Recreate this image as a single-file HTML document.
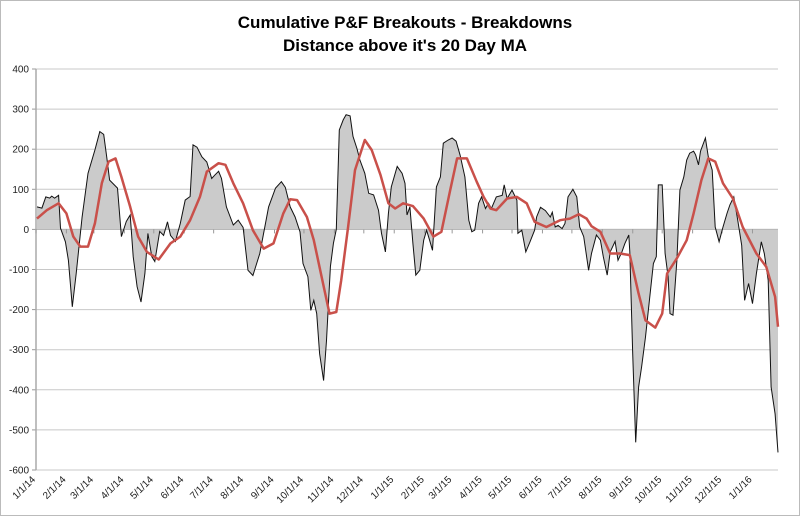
<!DOCTYPE html>
<html><head><meta charset="utf-8"><style>
body{margin:0;background:#fff;}
svg{display:block;font-family:"Liberation Sans",Arial,sans-serif;}
</style></head><body>
<svg id="chart" width="800" height="516">
<rect x="0.5" y="0.5" width="799" height="515" fill="#fff" stroke="#bbb"/>
<text x="405" y="28" text-anchor="middle" font-size="17" font-weight="bold">Cumulative P&amp;F Breakouts - Breakdowns</text>
<text x="405" y="51" text-anchor="middle" font-size="17" font-weight="bold">Distance above it's 20 Day MA</text>
<g id="grid"></g><g id="area"></g><g id="axes"></g><g id="lines"></g>
</svg>
<script>
const yTicks=[400,300,200,100,0,-100,-200,-300,-400,-500,-600];
const monthDays=[0,31,59,90,120,151,181,212,243,273,304,334,365,396,424,455,485,516,546,577,608,638,669,699,730];
const monthLabels=["1/1/14","2/1/14","3/1/14","4/1/14","5/1/14","6/1/14","7/1/14","8/1/14","9/1/14","10/1/14","11/1/14","12/1/14","1/1/15","2/1/15","3/1/15","4/1/15","5/1/15","6/1/15","7/1/15","8/1/15","9/1/15","10/1/15","11/1/15","12/1/15","1/1/16"];
const diffDays=[1,6,10,14,16,19,23,25,30,33,37,41,47,53,60,65,69,72,75,83,87,92,96,99,103,107,111,114,118,121,126,130,134,137,142,147,152,157,160,164,169,174,179,182,186,189,194,201,206,211,216,221,228,237,244,250,254,259,264,269,272,277,280,283,286,289,293,296,300,303,306,309,313,316,320,323,327,330,335,339,344,349,352,356,359,362,368,373,376,378,381,384,387,391,395,398,401,404,408,412,415,420,424,428,432,437,441,444,447,451,454,458,461,464,469,475,477,480,485,490,491,495,499,503,508,510,514,519,524,526,529,532,536,539,542,547,551,554,558,563,566,571,575,578,582,585,590,593,597,600,604,605,608,611,614,617,621,625,629,632,634,638,641,644,646,649,653,656,660,663,666,670,672,675,677,682,685,689,692,696,700,704,707,711,715,719,722,726,730,734,739,742,746,749,753,756];
const diffVals=[56,53,81,78,83,78,85,3,-31,-77,-193,-110,31,140,198,244,237,181,123,103,-18,20,36,-68,-143,-181,-110,-10,-68,-80,-5,-15,19,-15,-30,15,73,82,211,205,181,168,127,135,145,127,56,11,23,5,-102,-115,-60,56,103,119,105,56,31,-6,-85,-118,-202,-177,-210,-310,-377,-277,-93,-35,0,248,273,286,283,232,202,173,140,90,86,48,-10,-56,40,106,157,140,115,36,56,-35,-114,-102,-27,-2,-27,-52,106,131,215,223,228,220,186,131,23,-6,-2,65,81,52,65,52,81,85,111,77,98,73,-10,-2,-56,-33,-2,31,55,47,31,43,6,10,2,15,81,100,81,6,-18,-102,-60,-14,-27,-68,-114,-56,-30,-77,-56,-35,-14,-56,-310,-531,-393,-343,-268,-177,-85,-68,111,111,-60,-118,-210,-214,-77,98,131,173,190,195,186,161,195,228,181,148,6,-31,6,40,61,81,22,-40,-177,-135,-185,-110,-31,-60,-127,-393,-460,-556];
const maDays=[1,11,23,31,38,45,53,60,67,74,81,87,96,104,113,125,137,147,157,167,174,186,193,201,211,221,232,242,252,259,266,276,283,291,299,306,311,318,325,335,342,351,359,366,374,384,395,405,413,422,429,439,449,456,463,469,480,490,500,508,520,534,544,553,561,566,575,585,595,605,614,621,631,638,643,653,663,670,678,685,692,700,710,720,734,744,753,756];
const maVals=[27,48,65,40,-18,-43,-43,15,115,169,177,131,56,-18,-56,-75,-35,-18,23,81,144,165,161,115,65,-2,-48,-35,40,75,73,31,-27,-118,-210,-206,-127,6,148,223,198,136,65,52,65,58,27,-18,-6,98,177,177,119,81,52,48,77,81,65,19,6,23,27,38,27,8,-6,-60,-60,-64,-160,-227,-245,-210,-110,-72,-27,40,123,177,169,115,77,6,-60,-93,-168,-243];

const L=36,R=778,T=69,B=470,DMAX=756;
const xS=d=>L+d*(R-L)/DMAX;
const yS=v=>T+(400-v)*(B-T)/1000;
const NS="http://www.w3.org/2000/svg";
function mk(tag,attrs,parent){const e=document.createElementNS(NS,tag);for(const k in attrs)e.setAttribute(k,attrs[k]);document.getElementById(parent).appendChild(e);return e;}

yTicks.forEach(v=>{
  const g=mk('line',{x1:L,x2:R,y1:yS(v),y2:yS(v),stroke:v===0?'#999':'#c8c8c8','stroke-width':1},'grid');
  
  
  const t=mk('text',{x:L-7,y:yS(v)+3.5,'text-anchor':'end','font-size':10,fill:'#222'},'axes');
  t.textContent=v;
  
  
  const tk=mk('line',{x1:L-4,x2:L,y1:yS(v),y2:yS(v),stroke:'#999'},'axes');
  
  
});
const ya=mk('line',{x1:L,x2:L,y1:T,y2:B,stroke:'#aaa','stroke-width':1.5},'axes');



monthDays.forEach((d,i)=>{
  const x=xS(d);
  const tk=mk('line',{x1:x,x2:x,y1:yS(0),y2:yS(0)+4,stroke:'#999'},'axes');
  
  
  const t=mk('text',{x:x,y:B+10,'text-anchor':'end','font-size':10,fill:'#222',transform:`rotate(-45 ${x} ${B+10})`},'axes');
  t.textContent=monthLabels[i];
  
  
});

let pts=diffDays.map((d,i)=>xS(d).toFixed(1)+','+yS(diffVals[i]).toFixed(1));
const area=mk('path',{d:'M'+xS(diffDays[0])+','+yS(0)+' L'+pts.join(' L')+' L'+xS(diffDays[diffDays.length-1])+','+yS(0)+'Z',fill:'#cbcbcb'},'area');


const ln=mk('polyline',{points:pts.join(' '),fill:'none',stroke:'#111','stroke-width':1},'lines');


const mpts=maDays.map((d,i)=>xS(d).toFixed(1)+','+yS(maVals[i]).toFixed(1));
const ma=mk('polyline',{points:mpts.join(' '),fill:'none',stroke:'#c9504a','stroke-width':2.5,'stroke-linejoin':'round'},'lines');


</script>
</body></html>
